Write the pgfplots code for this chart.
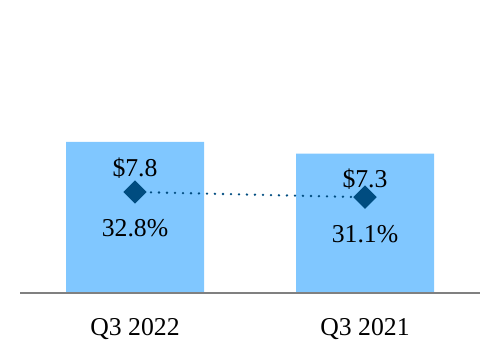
\documentclass[border=0pt]{standalone}
\usepackage{pgfplots}
\pgfplotsset{compat=1.18}
\usepackage{fontspec}
\setmainfont{Liberation Serif}
\definecolor{barblue}{RGB}{128,199,255}
\definecolor{mkblue}{RGB}{0,76,128}
\definecolor{axgray}{RGB}{128,128,128}
\newcommand{\bigf}{\fontsize{25.8}{30}\selectfont}
\begin{document}
\begin{tikzpicture}
\useasboundingbox (-20bp,-67bp) rectangle (480bp,293bp);
\begin{axis}[scale only axis, width=460bp, height=293bp,
  xmin=-0.5, xmax=1.5, ymin=0, ymax=15.13,
  axis y line=none, axis x line=bottom,
  axis line style={axgray, line width=2bp, -},
  xtick={0,1}, xticklabels={Q3 2022, Q3 2021},
  xtick style={draw=none}, ytick=\empty,
  xticklabel style={font=\bigf, anchor=base, yshift=-38bp},
  ybar, bar width=138bp, axis on top, clip=false]
\addplot[fill=barblue, draw=none] coordinates {(0,7.8) (1,7.2)};
\end{axis}
\begin{axis}[scale only axis, width=460bp, height=293bp,
  xmin=-0.5, xmax=1.5, ymin=0, ymax=95.15, hide axis, clip=false]
\addplot[mkblue, line width=2.6bp, dash pattern=on 0bp off 8bp, line cap=round,
  mark=square*, mark size=7bp,
  mark options={rotate=45, solid, fill=mkblue, draw=none}]
  coordinates {(0,32.8) (1,31.1)};
\node[font=\bigf, anchor=base] at (axis cs:0,37.67) {\$7.8};
\node[font=\bigf, anchor=base] at (axis cs:0,18.19) {32.8\%};
\node[font=\bigf, anchor=base] at (axis cs:1,34.1) {\$7.3};
\node[font=\bigf, anchor=base] at (axis cs:1,16.24) {31.1\%};
\end{axis}
\end{tikzpicture}
\end{document}
